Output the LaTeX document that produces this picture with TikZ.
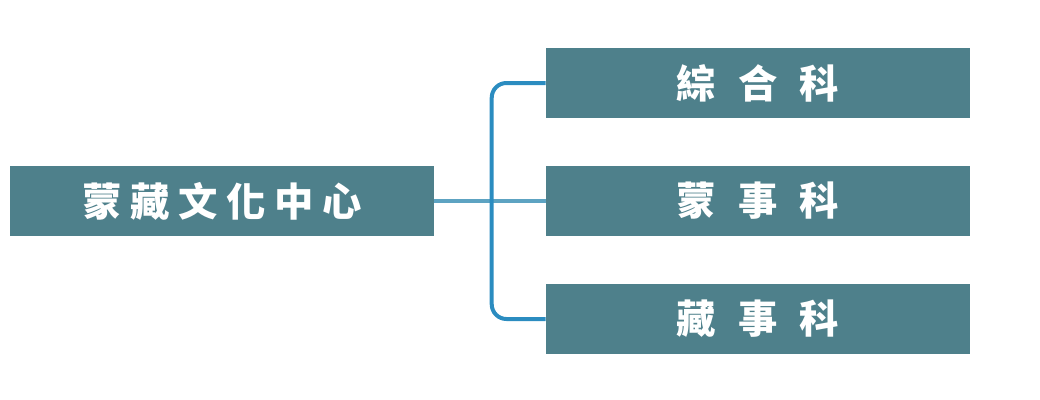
\documentclass[tikz,border=0pt]{standalone}
\usepackage{fontspec}
\newfontfamily\cjk{Noto Sans CJK TC}
\definecolor{boxfill}{HTML}{4E808B}
\definecolor{vline}{HTML}{2B8CC0}
\definecolor{hline}{HTML}{5DA3C2}
\tikzset{
  unitbox/.style={fill=boxfill, draw=none, minimum width=318pt, minimum height=52.5pt, inner sep=0pt, text=white, font=\cjk\bfseries\fontsize{29.5pt}{29.5pt}\selectfont},
  hconn/.style={draw=hline, line width=3pt},
  vconn/.style={draw=vline, line width=3pt, rounded corners=11pt},
}
\newcommand{\ls}{\hspace{6.5pt}}
\newcommand{\rs}{\hspace{16.6pt}}
\begin{document}
\begin{tikzpicture}[x=0.75pt,y=-0.75pt]
\useasboundingbox (0,0) rectangle (1040,400);
\node[unitbox] (center) at (222,201) {蒙\ls 藏\ls 文\ls 化\ls 中\ls 心\hspace{3pt}};
\node[unitbox] (b1) at (758,83) {綜\rs 合\rs 科};
\node[unitbox] (b2) at (758,201) {蒙\rs 事\rs 科};
\node[unitbox] (b3) at (758,319) {藏\rs 事\rs 科};
\draw[hconn] (center.east) -- (b2.west);
\draw[vconn] (b1.west) -- ++(-54,0) |- (b3.west);
\end{tikzpicture}
\end{document}
